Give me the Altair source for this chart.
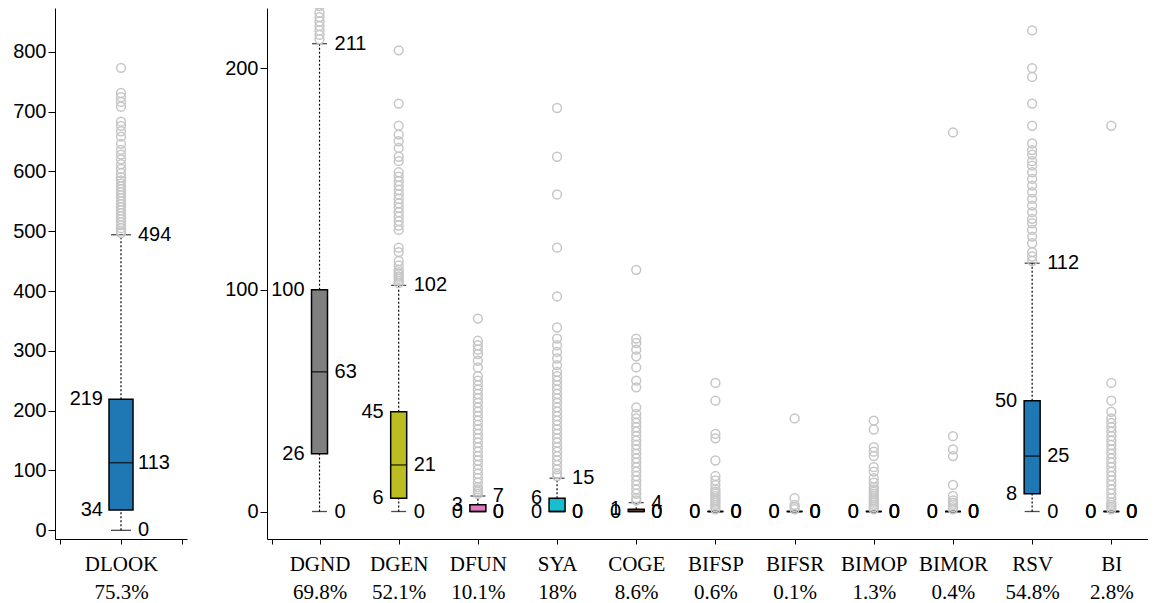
import altair as alt
import pandas as pd

# ---------------- data ----------------
left_names = ["DLOOK"]
left_pcts = ["75.3%"]
left_lower = [0]
left_q1 = [34]
left_median = [113]
left_q3 = [219]
left_upper = [494]
left_colors = ["#1f77b4"]
out_dlook = [773, 731, 724, 716, 708, 683, 676, 667, 658, 646, 636, 628, 620, 612,
             604, 597, 590, 585, 580, 575, 570, 565, 560, 555, 550, 545, 540, 535,
             530, 525, 520, 515, 510, 505, 500, 497]

names = ["DGND", "DGEN", "DFUN", "SYA", "COGE", "BIFSP", "BIFSR", "BIMOP", "BIMOR", "RSV", "BI"]
pcts = ["69.8%", "52.1%", "10.1%", "18%", "8.6%", "0.6%", "0.1%", "1.3%", "0.4%", "54.8%", "2.8%"]
lower = [0, 0, 0, 0, 0, 0, 0, 0, 0, 0, 0]
q1 = [26, 6, 0, 0, 0, 0, 0, 0, 0, 8, 0]
median = [63, 21, 0, 0, 0, 0, 0, 0, 0, 25, 0]
q3 = [100, 45, 3, 6, 1, 0, 0, 0, 0, 50, 0]
upper = [211, 102, 7, 15, 4, 0, 0, 0, 0, 112, 0]
colors = ["#7f7f7f", "#bcbd22", "#e377c2", "#17becf", "#8c564b", "#9467bd",
          "#d62728", "#2ca02c", "#ff7f0e", "#1f77b4", "#ff7f0e"]

out_dgnd = [213, 215, 217, 219, 221, 223, 225, 228, 232, 240, 255, 270]
out_dgen = [208, 184, 174, 170, 167, 164, 160, 158, 153, 151, 149, 147, 145, 143,
            141, 139, 137, 135, 133, 131, 129, 127, 119, 117, 113, 111, 109, 108,
            107, 106, 105, 104, 103]
out_dfun = [87, 77, 75, 73, 71, 68, 65, 61, 59, 57, 55, 53, 51, 49, 47, 45, 43, 41,
            39, 37, 35, 33, 31, 29, 27, 25, 23, 21, 19, 17, 15, 13, 11, 10, 9, 8]
out_sya = [182, 160, 143, 119, 97, 83, 78, 75, 72, 69, 66, 63, 61, 59, 57, 55, 53,
           51, 49, 47, 45, 43, 41, 39, 37, 35, 33, 31, 29, 27, 25, 23, 21, 19, 17, 16]
out_coge = [109, 78, 76, 73, 70, 65, 59, 56, 47, 44, 42, 40, 38, 36, 34, 32, 30, 28,
            26, 24, 22, 20, 18, 16, 14, 12, 10, 8, 6, 5]
out_bifsp = [58, 50, 35, 33, 23, 16, 14, 12, 10, 9, 8, 7, 6, 5, 4, 3, 2, 1]
out_bifsr = [42, 6, 3, 2, 1]
out_bimop = [41, 37, 29, 27, 25, 20, 18, 15, 13, 11, 10, 9, 8, 7, 6, 5, 4, 3, 2, 1]
out_bimor = [171, 34, 28, 25, 12, 7, 5, 4, 3, 2, 1]
out_rsv = [217, 200, 196, 184, 174, 166, 163, 161, 158, 156, 153, 150, 147, 144, 141,
           138, 135, 132, 130, 127, 124, 121, 117, 115, 113]
out_bi = [174, 58, 50, 45, 42, 40, 38, 36, 34, 32, 30, 28, 26, 24, 22, 20, 18, 16, 14,
          12, 10, 8, 6, 4, 3, 2, 1]
outliers = [out_dgnd, out_dgen, out_dfun, out_sya, out_coge, out_bifsp, out_bifsr,
            out_bimop, out_bimor, out_rsv, out_bi]

LABEL_FONT = "Liberation Sans"
CAT_FONT = "Liberation Serif"


def js_list(items):
    return "[" + ",".join("'" + s + "'" for s in items) + "]"


def panel(nm, pc, lo, a, md, b, hi, cols, outs, ydom, yvals, xdom, xvals,
          width, height, box_w, cap_w, off_l, off_r):
    idx = list(range(len(nm)))
    boxes = pd.DataFrame({"idx": idx, "name": nm, "col": cols, "lower": lo, "q1": a,
                          "median": md, "q3": b, "upper": hi})
    caps = pd.DataFrame({"idx": idx + idx, "v": lo + hi})
    pts = pd.DataFrame([{"idx": i, "v": v} for i in idx for v in outs[i]])
    lab_l = pd.DataFrame([{"idx": i, "v": v, "t": str(v)} for i in idx for v in (b[i], a[i])])
    lab_r = pd.DataFrame([{"idx": i, "v": v, "t": str(v)} for i in idx for v in (md[i], hi[i], lo[i])])

    label_expr = ("(datum.value >= 0 && datum.value == floor(datum.value) && datum.value < "
                  + str(len(nm)) + ") ? [" + js_list(nm) + "[datum.value], "
                  + js_list(pc) + "[datum.value]] : ''")

    x = alt.X("idx:Q", scale=alt.Scale(domain=xdom, nice=False, zero=False),
              axis=alt.Axis(values=xvals, labelExpr=label_expr, title=None, grid=False,
                            tickSize=5, labelFont=CAT_FONT, labelFontSize=21,
                            labelLineHeight=28, labelPadding=9, labelFlush=False,
                            labelOverlap=False, labelColor="black"))

    def y(field):
        return alt.Y(field, scale=alt.Scale(domain=ydom, nice=False, zero=False),
                     axis=alt.Axis(values=yvals, title=None, grid=False, tickSize=7,
                                   labelPadding=2, minExtent=47, labelFont=LABEL_FONT,
                                   labelFontSize=20, labelColor="black"))

    base_b = alt.Chart(boxes)
    w_lo = base_b.mark_rule(color="black", strokeWidth=1.2, strokeDash=[2, 2]).encode(
        x=x, y=y("lower:Q"), y2="q1:Q")
    w_hi = base_b.mark_rule(color="black", strokeWidth=1.2, strokeDash=[2, 2]).encode(
        x=x, y=y("q3:Q"), y2="upper:Q")
    cap = alt.Chart(caps).mark_tick(orient="horizontal", size=cap_w, thickness=1.3,
                                    color="black").encode(x=x, y=y("v:Q"))
    box = base_b.mark_bar(size=box_w, stroke="black", strokeWidth=1.5, opacity=1).encode(
        x=x, y=y("q1:Q"), y2="q3:Q",
        color=alt.Color("col:N", scale=None, legend=None))
    med = base_b.mark_tick(orient="horizontal", size=box_w, thickness=1.5,
                           color="black").encode(x=x, y=y("median:Q"))
    pt = alt.Chart(pts).mark_point(shape="circle", filled=False, size=78, color="#c6c6c6",
                                   strokeWidth=1.5, opacity=1, clip=True).encode(
        x=x, y=y("v:Q"))
    tl = alt.Chart(lab_l).mark_text(align="right", baseline="middle", dx=-off_l,
                                    font=LABEL_FONT, fontSize=20, color="black").encode(
        x=x, y=y("v:Q"), text="t:N")
    tr = alt.Chart(lab_r).mark_text(align="left", baseline="middle", dx=off_r,
                                    font=LABEL_FONT, fontSize=20, color="black").encode(
        x=x, y=y("v:Q"), text="t:N")
    return alt.layer(w_lo, w_hi, cap, box, med, pt, tl, tr).properties(
        width=width, height=height)


left = panel(left_names, left_pcts, left_lower, left_q1, left_median, left_q3, left_upper,
             left_colors, [out_dlook], [-14.5, 873], [0, 100, 200, 300, 400, 500, 600, 700, 800],
             [-0.5, 0.5], [-0.5, 0, 0.5], 132, 531, 24, 20, 18, 17)

right = panel(names, pcts, lower, q1, median, q3, upper, colors, outliers,
              [-12.4, 227.1], [0, 100, 200], [-0.6, 10.4], [-0.6] + list(range(11)),
              881, 531, 16, 15, 15, 15)

chart = alt.hconcat(left, right, spacing=33).properties(padding=0).configure_view(
    stroke=None).configure_axis(domainColor="black", tickColor="black", domainWidth=1,
                                tickWidth=1)

chart.save("out.html", embed_options={"renderer": "svg", "actions": False})
